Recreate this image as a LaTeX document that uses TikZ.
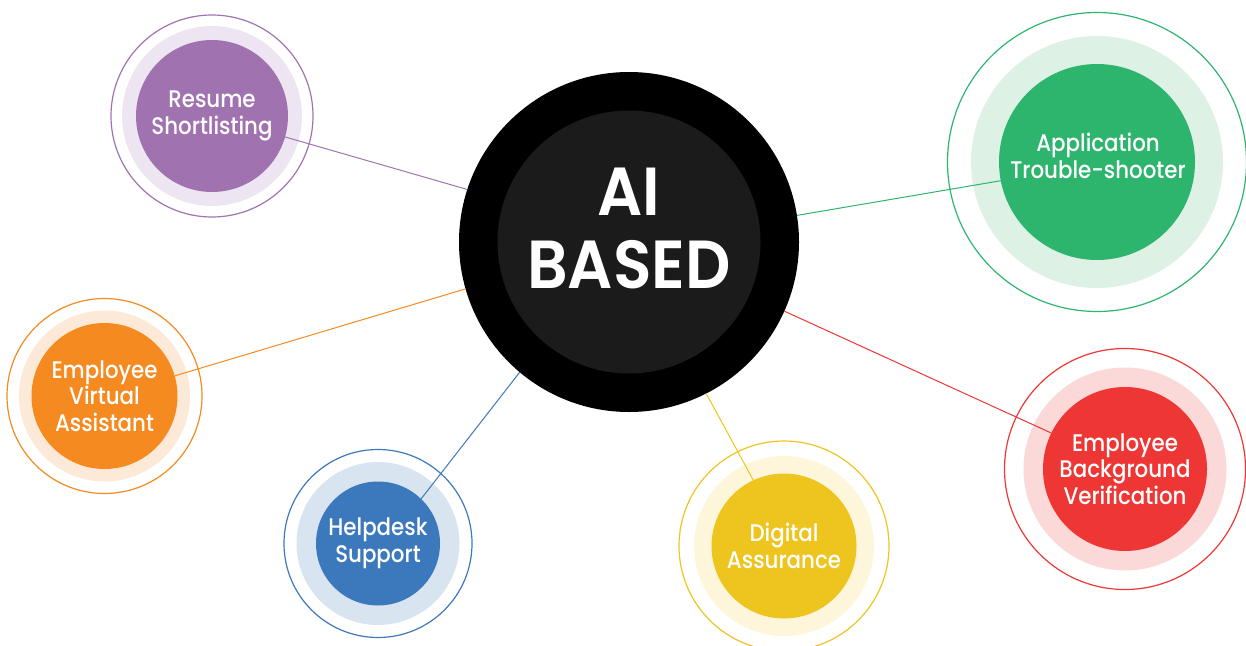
\documentclass[tikz,border=0pt]{standalone}
\usepackage{fontspec}
\setmainfont{Poppins}
\newfontfamily\satfont{Poppins Medium}[FakeStretch=0.89]
\newfontfamily\aifont{Poppins SemiBold}[FakeStretch=0.93]
\definecolor{pur}{HTML}{A073B0}\definecolor{purL}{HTML}{EDE5F1}
\definecolor{grn}{HTML}{2DB56E}\definecolor{grnL}{HTML}{DDF1E4}
\definecolor{org}{HTML}{F48A20}\definecolor{orgL}{HTML}{FDE9D7}
\definecolor{blu}{HTML}{3B78BC}\definecolor{bluL}{HTML}{D9E4F1}
\definecolor{yel}{HTML}{EEC41F}\definecolor{yelL}{HTML}{FDF6DB}
\definecolor{red}{HTML}{EE3734}\definecolor{redL}{HTML}{FAD9D8}
\definecolor{aigray}{HTML}{1B1B1B}
\tikzset{
  ring/.style={circle, draw=#1, line width=1.2pt, inner sep=0pt, outer sep=0pt},
  halo/.style={circle, fill=#1, inner sep=0pt, outer sep=0pt},
  core/.style={circle, fill=#1, inner sep=0pt, outer sep=0pt, text=white, align=center,
    font=\satfont\fontsize{24}{26.5}\selectfont},
  sattext/.style={text=white, align=center, inner sep=0pt,
    font=\satfont\fontsize{24}{26.5}\selectfont},
  link/.style={draw=#1, line width=1pt},
}
\begin{document}
\begin{tikzpicture}[x=1pt,y=-1pt]
\useasboundingbox (0,0) rectangle (1246,645);
% central
\node[circle, fill=black, minimum size=340pt, inner sep=0pt, outer sep=0pt] (ai) at (629,242) {};
\node[circle, fill=aigray, minimum size=263pt, inner sep=0pt] (aiin) at (629,242) {};
\node[text=white, align=center, inner sep=0pt, font=\aifont\fontsize{68}{73}\selectfont] (ait) at (629,228) {AI\\BASED};
% Resume
\node[ring=pur, minimum size=202pt] (resO) at (212,116) {};
\node[halo=purL, minimum size=180pt] (resL) at (212,116) {};
\node[core=pur, minimum size=152pt] (res) at (212,116) {Resume\\Shortlisting};
% Application
\node[ring=grn, minimum size=299pt] (appO) at (1097,162) {};
\node[halo=grnL, minimum size=252pt] (appL) at (1097,162) {};
\node[core=grn, minimum size=196pt] (app) at (1097,162) {};
\node[sattext] (appT) at (1098,156) {Application\\Trouble-shooter};
% Employee virtual assistant
\node[ring=org, minimum size=195pt] (evaO) at (104.5,396) {};
\node[halo=orgL, minimum size=171pt] (evaL) at (104.5,396) {};
\node[core=org, minimum size=146pt] (eva) at (104.5,396) {Employee\\Virtual\\Assistant};
% Helpdesk
\node[ring=blu, minimum size=188pt] (hdO) at (378,543.5) {};
\node[halo=bluL, minimum size=163pt] (hdL) at (378,543.5) {};
\node[core=blu, minimum size=124pt] (hd) at (378,543.5) {Helpdesk\\Support};
% Digital assurance
\node[ring=yel, minimum size=210pt] (daO) at (784,546) {};
\node[halo=yelL, minimum size=180pt] (daL) at (784,546) {};
\node[core=yel, minimum size=145pt] (da) at (784,546) {Digital\\Assurance};
% Employee background verification
\node[ring=red, minimum size=241pt] (ebvO) at (1125,469) {};
\node[halo=redL, minimum size=203pt] (ebvL) at (1125,469) {};
\node[core=red, minimum size=164pt] (ebv) at (1125,469) {Employee\\Background\\Verification};
% connectors
\draw[link=pur] (res.-16) -- (ai.162.8);
\draw[link=grn] (app.191.9) -- (ai.9.7);
\draw[link=org] (eva.16.6) -- (ai.196.5);
\draw[link=blu] (hd.46) -- (ai.230.8);
\draw[link=yel] (da.115.5) -- (ai.297.5);
\draw[link=red] (ebv.154) -- (ai.-24.4);
\end{tikzpicture}
\end{document}
